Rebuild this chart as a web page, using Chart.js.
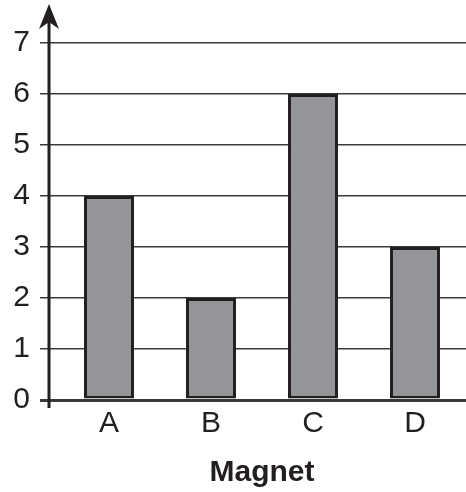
<!DOCTYPE html>
<html>
<head>
<meta charset="utf-8">
<script src="https://cdn.jsdelivr.net/npm/chart.js@4/dist/chart.umd.min.js"></script>
<style>
html,body{margin:0;padding:0;background:#fff;}
#wrap{width:466px;height:492px;position:relative;}
</style>
</head>
<body>
<div id="wrap"><canvas id="c"></canvas></div>
<script>
const categories = ['A', 'B', 'C', 'D'];
const values = [4, 2, 6, 3];
const yTicks = [0, 1, 2, 3, 4, 5, 6, 7];
const xTitle = 'Magnet';

const ink = '#231f20';

const axisArrow = {
  id: 'axisArrow',
  afterDraw(chart) {
    const ctx = chart.ctx;
    const ca = chart.chartArea;
    const x = ca.left - 9;
    ctx.save();
    ctx.strokeStyle = ink;
    ctx.fillStyle = ink;
    ctx.lineWidth = 3;
    ctx.beginPath();
    ctx.moveTo(x, ca.bottom + 8);
    ctx.lineTo(x, ca.top - 25);
    ctx.stroke();
    ctx.beginPath();
    const tip = ca.top - 39;
    ctx.moveTo(x, tip);
    ctx.lineTo(x + 10, tip + 25);
    ctx.lineTo(x, tip + 18);
    ctx.lineTo(x - 10, tip + 25);
    ctx.closePath();
    ctx.fill();
    ctx.restore();
  }
};

new Chart(document.getElementById('c'), {
  type: 'bar',
  data: {
    labels: categories,
    datasets: [{
      data: values,
      backgroundColor: '#939598',
      borderColor: ink,
      borderWidth: 3,
      borderSkipped: false,
      barPercentage: 0.49,
      categoryPercentage: 1
    }]
  },
  options: {
    responsive: true,
    maintainAspectRatio: false,
    animation: false,
    devicePixelRatio: 1,
    layout: { padding: { top: 43, right: 0, left: 0, bottom: 0 } },
    plugins: { legend: { display: false }, tooltip: { enabled: false } },
    scales: {
      x: {
        grid: { display: false, drawTicks: false },
        border: { display: false },
        ticks: { color: ink, font: { family: 'Liberation Sans', size: 30 }, padding: 6 },
        title: { display: true, text: xTitle, color: ink, font: { family: 'Liberation Sans', size: 30, weight: 'bold' }, padding: { top: 10, bottom: 1 } },
        afterFit(scale) { scale.height = 92; }
      },
      y: {
        min: 0,
        max: 7,
        afterBuildTicks(scale) { scale.ticks = yTicks.map(v => ({ value: v })); },
        grid: {
          color: '#3a3a3a',
          lineWidth: (c) => (c.tick && c.tick.value === 0 ? 3 : 1.5),
          tickLength: 18,
          drawTicks: true
        },
        border: { display: false },
        ticks: { color: ink, font: { family: 'Liberation Sans', size: 30 }, padding: 10 },
        afterFit(scale) { scale.width = 58; }
      }
    }
  },
  plugins: [axisArrow]
});
</script>
</body>
</html>
